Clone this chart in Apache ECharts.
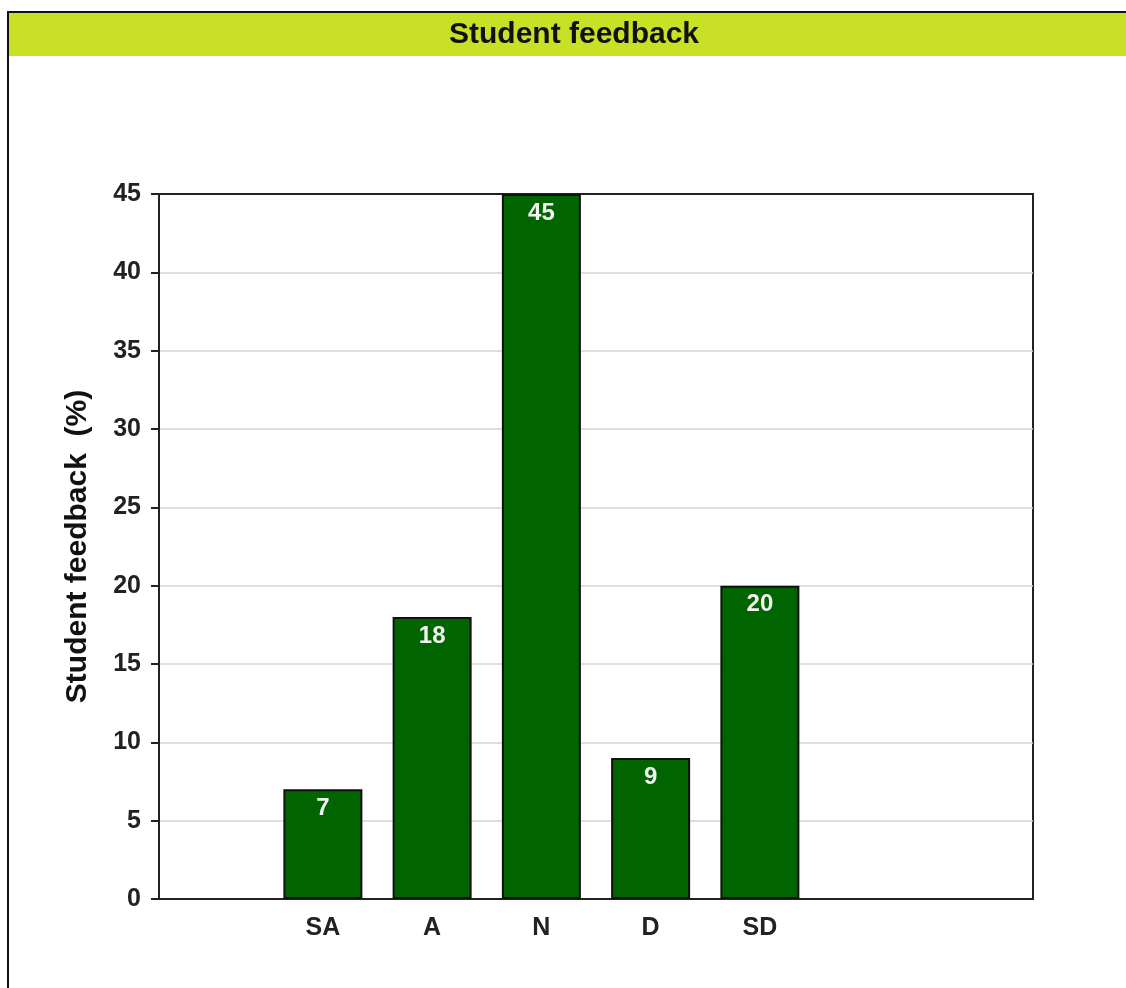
<!DOCTYPE html>
<html>
<head>
<meta charset="utf-8">
<script src="https://cdn.jsdelivr.net/npm/echarts@6/dist/echarts.min.js"></script>
<style>
  html, body { margin: 0; padding: 0; background: #fff; }
  #chart { width: 1126px; height: 988px; }
</style>
</head>
<body>
<div id="chart"></div>
<script>
  // answer categories and their shares (%)
  const categories = ['SA', 'A', 'N', 'D', 'SD'];
  const values = [7, 18, 45, 9, 20];
  const yTicks = [0, 5, 10, 15, 20, 25, 30, 35, 40, 45];

  // the axis has one empty slot before the bars and two after
  const slots = [''].concat(categories, [' ', '  ']);
  const slotValues = [null].concat(values, [null, null]);

  const chart = echarts.init(document.getElementById('chart'));
  const font = 'Liberation Sans, Arial, sans-serif';

  const option = {
    backgroundColor: '#ffffff',
    animation: false,
    graphic: [
      {
        type: 'rect',
        shape: { x: 8, y: 12, width: 1140, height: 1000 },
        style: { fill: 'none', stroke: '#111', lineWidth: 2 }
      },
      {
        type: 'rect',
        shape: { x: 9, y: 13, width: 1117, height: 43 },
        style: { fill: '#c8e026' }
      },
      {
        type: 'text',
        x: 574,
        y: 35,
        style: {
          text: 'Student feedback',
          font: 'bold 30px ' + font,
          fill: '#111',
          align: 'center',
          verticalAlign: 'middle'
        }
      }
    ],
    grid: {
      left: 159,
      right: 93,
      top: 194,
      bottom: 89,
      show: true,
      borderColor: '#222',
      borderWidth: 2
    },
    xAxis: {
      type: 'category',
      data: slots,
      axisLine: { lineStyle: { color: '#222', width: 2 } },
      axisTick: {
        alignWithLabel: true,
        length: 8,
        lineStyle: { color: '#222', width: 2 },
        interval: (i, v) => v.trim() !== ''
      },
      axisLabel: {
        interval: 0,
        margin: 17,
        color: '#222',
        fontFamily: font,
        fontWeight: 'bold',
        fontSize: 25
      },
      splitLine: { show: false }
    },
    yAxis: {
      type: 'value',
      min: yTicks[0],
      max: yTicks[yTicks.length - 1],
      interval: yTicks[1] - yTicks[0],
      name: 'Student feedback  (%)',
      nameLocation: 'middle',
      nameGap: 66,
      nameTextStyle: {
        color: '#111',
        fontFamily: font,
        fontWeight: 'bold',
        fontSize: 30
      },
      axisLine: { show: true, lineStyle: { color: '#222', width: 2 } },
      axisTick: { show: true, length: 8, lineStyle: { color: '#222', width: 2 } },
      axisLabel: {
        margin: 18,
        color: '#222',
        fontFamily: font,
        fontWeight: 'bold',
        fontSize: 25
      },
      splitLine: {
        showMinLine: false,
        showMaxLine: false,
        lineStyle: { color: '#d4d4d4', width: 1.5 }
      }
    },
    series: [
      {
        type: 'bar',
        data: slotValues,
        barWidth: 79,
        itemStyle: {
          color: '#006400',
          borderColor: '#111',
          borderWidth: 2
        },
        label: {
          show: true,
          position: 'insideTop',
          distance: 7,
          color: '#f2f2f2',
          fontFamily: font,
          fontWeight: 'bold',
          fontSize: 24
        }
      }
    ]
  };

  chart.setOption(option);
</script>
</body>
</html>
